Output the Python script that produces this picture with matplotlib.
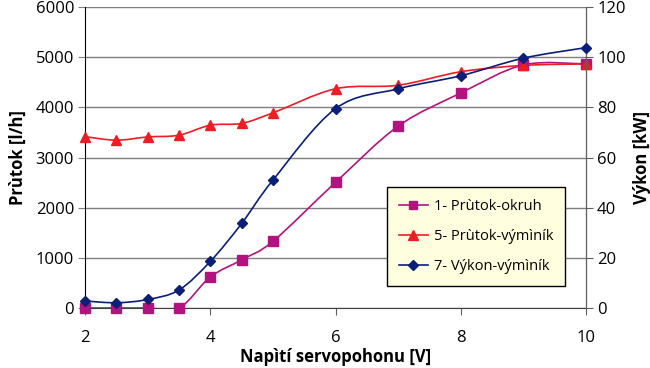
import numpy as np
import matplotlib.pyplot as plt
from matplotlib.path import Path
from matplotlib.patches import PathPatch
from matplotlib.lines import Line2D

plt.rcParams['font.family'] = ['Open Sans', 'DejaVu Sans']

# data
napeti = [2, 2.5, 3, 3.5, 4, 4.5, 5, 6, 7, 8, 9, 10]
prutok_okruh = [0, 0, 0, 0, 620, 960, 1330, 2505, 3625, 4285, 4845, 4865]          # l/h
prutok_vymenik = [3415, 3345, 3410, 3445, 3645, 3680, 3890, 4370, 4440, 4710, 4835, 4865]  # l/h
vykon_vymenik = [2.8, 2.1, 3.4, 7.2, 18.6, 33.7, 51, 79.5, 87.4, 92.6, 99.6, 103.8]  # kW

c_okruh = '#b3137f'
c_vym = '#ee1c25'
c_vykon = '#0b1f78'


def smooth(x, y, t=1/6.):
    # excel-like smoothed line (catmull-rom as bezier)
    x = np.asarray(x, float); y = np.asarray(y, float)
    verts = [(x[0], y[0])]
    codes = [Path.MOVETO]
    n = len(x)
    for i in range(n - 1):
        i0 = max(i - 1, 0); i3 = min(i + 2, n - 1)
        c1 = (x[i] + (x[i+1] - x[i0]) * t, y[i] + (y[i+1] - y[i0]) * t)
        c2 = (x[i+1] - (x[i3] - x[i]) * t, y[i+1] - (y[i3] - y[i]) * t)
        verts += [c1, c2, (x[i+1], y[i+1])]
        codes += [Path.CURVE4] * 3
    return Path(verts, codes)


fig = plt.figure(figsize=(6.5, 3.68), dpi=100)
ax = fig.add_axes([0.131, 0.163, 0.7705, 0.818])
ax2 = ax.twinx()

ax.set_xlim(2, 10)
ax.set_ylim(0, 6000)
ax2.set_ylim(0, 120)
ax.set_xticks([2, 4, 6, 8, 10])
ax.set_yticks(range(0, 6001, 1000))
ax2.set_yticks(range(0, 121, 20))

ax.grid(axis='y', color='#7f7f7f', lw=1)
ax.set_axisbelow(True)

for a, xs, ys, col, mk, ms in [
        (ax, napeti, prutok_okruh, c_okruh, 's', 6.5),
        (ax, napeti, prutok_vymenik, c_vym, '^', 7.5),
        (ax2, napeti, vykon_vymenik, c_vykon, 'D', 5.5)]:
    a.add_patch(PathPatch(smooth(xs, ys), fc='none', ec=col, lw=1.2, zorder=3))
    a.plot(xs, ys, ls='none', marker=mk, ms=ms, color=col, zorder=4, clip_on=False)

for s in ['top']:
    ax.spines[s].set_visible(False)
    ax2.spines[s].set_visible(False)
ax.spines['left'].set_color('black')
ax.spines['bottom'].set_color('#404040')
ax2.spines['right'].set_color('#606060')
ax2.spines['left'].set_visible(False)
ax2.spines['bottom'].set_visible(False)

ax.tick_params(axis='x', direction='out', length=5, color='#606060', labelsize=12, pad=11)
ax.tick_params(axis='y', direction='out', length=5, color='#7f7f7f', labelsize=12, pad=3)
ax2.tick_params(axis='y', direction='out', length=5, color='#606060', labelsize=12, pad=3)

ax.set_xlabel('Napìtí servopohonu [V]', fontsize=12, fontweight='bold', labelpad=1)
ax.set_ylabel('Prùtok [l/h]', fontsize=12, fontweight='bold', labelpad=6)
ax2.set_ylabel('Výkon [kW]', fontsize=12, fontweight='bold', labelpad=5)

handles = [Line2D([], [], color=c_okruh, marker='s', ms=6, lw=1.2),
           Line2D([], [], color=c_vym, marker='^', ms=7, lw=1.2),
           Line2D([], [], color=c_vykon, marker='D', ms=5, lw=1.2)]
labels = ['1- Prùtok-okruh', '5- Prùtok-výmìník', '7- Výkon-výmìník']
leg = ax2.legend(handles, labels, loc='lower left', bbox_to_anchor=(0.603, 0.073),
                 borderaxespad=0, fontsize=10.5, fancybox=False, framealpha=1,
                 facecolor='#ffffe0', edgecolor='black', handlelength=2.0,
                 handletextpad=0.4, labelspacing=1.05, borderpad=0.8)
leg.get_frame().set_linewidth(1)
leg.set_zorder(10)

fig.savefig('out.png', dpi=100)
